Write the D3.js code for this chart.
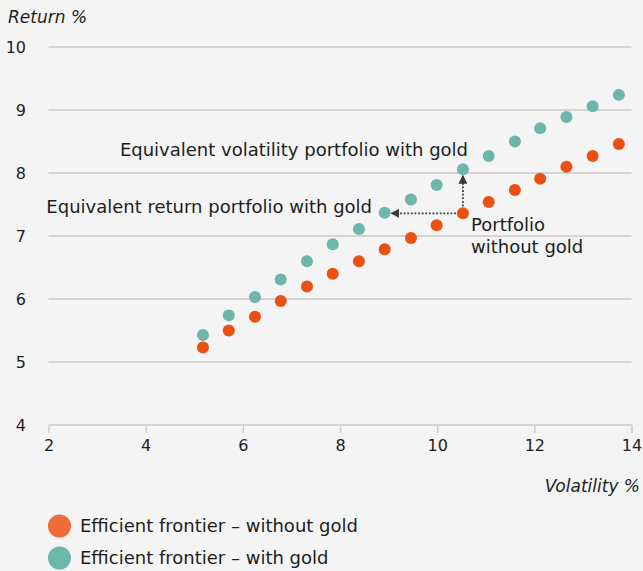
<!DOCTYPE html>
<html>
<head>
<meta charset="utf-8">
<script src="https://cdn.jsdelivr.net/npm/d3@7"></script>
<style>
  html, body { margin: 0; padding: 0; background: #f4f4f4; }
  svg { display: block; font-family: 'DejaVu Sans', sans-serif; }
</style>
</head>
<body>
<div id="chart"></div>
<script>
// volatility (x) of each efficient frontier point
const volatility = [5.18, 5.71, 6.25, 6.78, 7.32, 7.85, 8.39, 8.92, 9.46, 9.99, 10.53, 11.06, 11.6, 12.12, 12.66, 13.2, 13.74];
// return (y) without and with gold
const returnWithoutGold = [5.23, 5.5, 5.72, 5.97, 6.2, 6.4, 6.6, 6.79, 6.97, 7.17, 7.36, 7.54, 7.73, 7.91, 8.1, 8.27, 8.46];
const returnWithGold = [5.43, 5.74, 6.03, 6.31, 6.6, 6.87, 7.11, 7.37, 7.58, 7.81, 8.06, 8.27, 8.5, 8.71, 8.89, 9.06, 9.24];
const xTicks = [2, 4, 6, 8, 10, 12, 14];
const yTicks = [4, 5, 6, 7, 8, 9, 10];
const seriesNames = ['Efficient frontier \u2013 without gold', 'Efficient frontier \u2013 with gold'];
// index of the reference portfolio and its equivalents
const portfolioIdx = 10;
const equivReturnIdx = 7;

const width = 643;
const height = 571;

const red = '#eb5012';
const redLegend = '#f06c36';
const teal = '#6cb6aa';
const grid = '#cacaca';
const ink = '#1d1d1d';

const svg = d3.select('#chart')
  .append('svg')
  .attr('width', width)
  .attr('height', height);

svg.append('rect')
  .attr('width', width)
  .attr('height', height)
  .attr('fill', '#f4f4f4');

const x = d3.scaleLinear().domain([2, 14]).range([48.5, 631.5]);
const y = d3.scaleLinear().domain([4, 10]).range([425, 47]);

// horizontal grid lines
svg.append('g')
  .selectAll('line')
  .data(yTicks)
  .enter()
  .append('line')
  .attr('x1', x(2))
  .attr('x2', x(14))
  .attr('y1', (d) => y(d))
  .attr('y2', (d) => y(d))
  .attr('stroke', grid)
  .attr('stroke-width', 1.6);

// y labels
svg.append('g')
  .selectAll('text')
  .data(yTicks)
  .enter()
  .append('text')
  .attr('x', 26)
  .attr('y', (d) => y(d))
  .attr('dy', '0.36em')
  .attr('text-anchor', 'end')
  .attr('fill', ink)
  .style('font-size', '16px')
  .text((d) => d);

// x axis
const xAxis = d3.axisBottom(x)
  .tickValues(xTicks)
  .tickSize(8)
  .tickPadding(7)
  .tickFormat((d) => d);

const gx = svg.append('g')
  .attr('transform', `translate(0,${y(4)})`)
  .call(xAxis);
gx.select('.domain').remove();
gx.selectAll('.tick line').attr('stroke', grid).attr('stroke-width', 1.4);
gx.selectAll('.tick text')
  .attr('fill', ink)
  .style('font-size', '16px')
  .style('font-family', "'DejaVu Sans', sans-serif");

// axis titles
svg.append('text')
  .attr('x', 8)
  .attr('y', 23)
  .attr('fill', ink)
  .style('font-size', '17px')
  .style('font-style', 'italic')
  .text('Return %');

svg.append('text')
  .attr('x', 640)
  .attr('y', 492)
  .attr('text-anchor', 'end')
  .attr('fill', ink)
  .style('font-size', '17px')
  .style('font-style', 'italic')
  .text('Volatility %');

// points
const points = svg.append('g');
points.selectAll('.with')
  .data(volatility)
  .enter()
  .append('circle')
  .attr('class', 'with')
  .attr('cx', (d) => x(d))
  .attr('cy', (d, i) => y(returnWithGold[i]))
  .attr('r', 6)
  .attr('fill', teal);

points.selectAll('.without')
  .data(volatility)
  .enter()
  .append('circle')
  .attr('class', 'without')
  .attr('cx', (d) => x(d))
  .attr('cy', (d, i) => y(returnWithoutGold[i]))
  .attr('r', 6)
  .attr('fill', red);

// arrows
svg.append('defs')
  .append('marker')
  .attr('id', 'arrow')
  .attr('viewBox', '0 0 10 10')
  .attr('refX', 9)
  .attr('refY', 5)
  .attr('markerWidth', 9)
  .attr('markerHeight', 9)
  .attr('markerUnits', 'userSpaceOnUse')
  .attr('orient', 'auto')
  .append('path')
  .attr('d', 'M0,0 L10,5 L0,10 Z')
  .attr('fill', '#3a3a3a');

const px = x(volatility[portfolioIdx]);
const py = y(returnWithoutGold[portfolioIdx]);

svg.append('line')
  .attr('x1', px)
  .attr('y1', py - 7)
  .attr('x2', px)
  .attr('y2', y(returnWithGold[portfolioIdx]) + 6.5)
  .attr('stroke', '#3a3a3a')
  .attr('stroke-width', 1.8)
  .attr('stroke-dasharray', '1.8,1.8')
  .attr('marker-end', 'url(#arrow)');

svg.append('line')
  .attr('x1', px - 7)
  .attr('y1', py)
  .attr('x2', x(volatility[equivReturnIdx]) + 6.5)
  .attr('y2', py)
  .attr('stroke', '#3a3a3a')
  .attr('stroke-width', 1.8)
  .attr('stroke-dasharray', '1.8,1.8')
  .attr('marker-end', 'url(#arrow)');

// annotations
const note = (tx, ty, anchor, str) => svg.append('text')
  .attr('x', tx)
  .attr('y', ty)
  .attr('text-anchor', anchor)
  .attr('fill', ink)
  .style('font-size', '18px')
  .text(str);

note(468, 156, 'end', 'Equivalent volatility portfolio with gold');
note(372, 213, 'end', 'Equivalent return portfolio with gold');
note(471, 231, 'start', 'Portfolio');
note(471, 253, 'start', 'without gold');

// legend
const legend = svg.append('g');
[redLegend, teal].forEach((c, i) => {
  legend.append('circle')
    .attr('cx', 59.5)
    .attr('cy', 526 + i * 32)
    .attr('r', 11.5)
    .attr('fill', c);
  legend.append('text')
    .attr('x', 80)
    .attr('y', 526 + i * 32)
    .attr('dy', '0.36em')
    .attr('fill', ink)
    .style('font-size', '18px')
    .text(seriesNames[i]);
});
</script>
</body>
</html>
